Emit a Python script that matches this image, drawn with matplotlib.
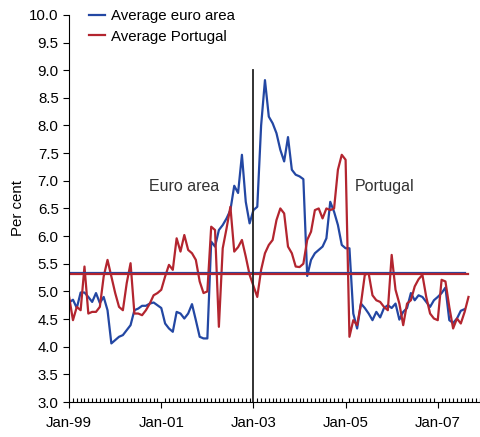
import numpy as np
import matplotlib
matplotlib.use("Agg")
import matplotlib.pyplot as plt
from matplotlib.ticker import MultipleLocator, FormatStrFormatter

# monthly rates, Jan-99 onwards (per cent)
euro_area = [4.80, 4.85, 4.70, 4.98, 4.98, 4.90, 4.81, 4.97, 4.79, 4.90,
             4.66, 4.06, 4.12, 4.18, 4.21, 4.30, 4.39, 4.66, 4.69, 4.74,
             4.74, 4.78, 4.80, 4.75, 4.70, 4.42, 4.33, 4.27, 4.63, 4.60,
             4.51, 4.60, 4.77, 4.48, 4.18, 4.15, 4.15, 5.90, 5.81, 6.11,
             6.20, 6.32, 6.47, 6.91, 6.78, 7.47, 6.62, 6.23, 6.47, 6.53,
             8.00, 8.82, 8.16, 8.04, 7.86, 7.56, 7.35, 7.79, 7.20, 7.11,
             7.08, 7.03, 5.28, 5.57, 5.69, 5.75, 5.81, 5.96, 6.62, 6.44,
             6.20, 5.84, 5.78, 5.78, 4.60, 4.33, 4.78, 4.70, 4.60, 4.48,
             4.63, 4.53, 4.70, 4.75, 4.70, 4.78, 4.49, 4.63, 4.70, 4.97,
             4.84, 4.93, 4.90, 4.81, 4.72, 4.84, 4.90, 4.97, 5.07, 4.48,
             4.43, 4.51, 4.65, 4.68]
portugal = [4.90, 4.48, 4.72, 4.66, 5.45, 4.60, 4.63, 4.63, 4.72, 5.27,
            5.57, 5.27, 4.97, 4.72, 4.66, 5.15, 5.51, 4.60, 4.60, 4.57,
            4.66, 4.78, 4.93, 4.97, 5.03, 5.27, 5.48, 5.39, 5.96, 5.72,
            6.02, 5.75, 5.69, 5.57, 5.18, 4.97, 5.00, 6.17, 6.11, 4.36,
            5.78, 6.14, 6.53, 5.72, 5.80, 5.93, 5.63, 5.30, 5.10, 4.90,
            5.39, 5.69, 5.84, 5.93, 6.29, 6.50, 6.41, 5.81, 5.69, 5.45,
            5.44, 5.50, 5.93, 6.08, 6.47, 6.50, 6.32, 6.50, 6.47, 6.50,
            7.20, 7.47, 7.38, 4.18, 4.48, 4.39, 4.78, 5.30, 5.33, 4.93,
            4.84, 4.81, 4.72, 4.66, 5.66, 5.03, 4.78, 4.39, 4.78, 4.84,
            5.09, 5.22, 5.30, 4.90, 4.60, 4.51, 4.48, 5.21, 5.18, 4.72,
            4.33, 4.51, 4.42, 4.63, 4.90]
avg_euro_area = 5.34
avg_portugal = 5.31

tick_labels = ["Jan-99", "Jan-01", "Jan-03", "Jan-05", "Jan-07"]

blue = "#2347a3"
red = "#b3252f"

plt.rcParams["font.family"] = ["Liberation Sans", "DejaVu Sans"]
plt.rcParams["font.size"] = 10.8

fig = plt.figure(figsize=(4.8, 4.37), dpi=100)
ax = fig.add_axes([0.144, 0.080, 0.856, 0.886])

m_euro = np.arange(len(euro_area))
m_pt = np.arange(len(portugal))

ax.plot(m_euro, euro_area, color=blue, lw=1.6, label="Average euro area")
ax.plot(m_pt, portugal, color=red, lw=1.6, label="Average Portugal")
ax.plot([0, m_euro[-1]], [avg_euro_area] * 2, color=blue, lw=1.6)
ax.plot([0, m_pt[-1]], [avg_portugal] * 2, color=red, lw=1.6)

ax.plot([48, 48], [3.0, 9.0], color="#222222", lw=1.3)

ax.text(30, 6.9, "Euro area", ha="center", va="center", color="#333333",
        fontsize=11.5)
ax.text(74.5, 6.9, "Portugal", ha="left", va="center", color="#333333",
        fontsize=11.5)

ax.set_xlim(0, 107)
ax.set_ylim(3.0, 10.0)
ax.set_xticks(np.arange(len(tick_labels)) * 24)
ax.set_xticklabels(tick_labels)
ax.xaxis.set_minor_locator(MultipleLocator(1))
ax.yaxis.set_major_locator(MultipleLocator(0.5))
ax.yaxis.set_major_formatter(FormatStrFormatter("%.1f"))
ax.tick_params(axis="x", which="major", direction="out", length=4, pad=6)
ax.tick_params(axis="x", which="minor", direction="in", length=3, width=0.8)
ax.tick_params(axis="y", direction="out", length=4)
ax.set_ylabel("Per cent", labelpad=3)

for s in ["top", "right"]:
    ax.spines[s].set_visible(False)

ax.legend(loc="upper left", bbox_to_anchor=(0.015, 1.05), frameon=False,
          handlelength=1.1, handletextpad=0.35, labelspacing=0.45)

fig.savefig("out.png", dpi=100)
